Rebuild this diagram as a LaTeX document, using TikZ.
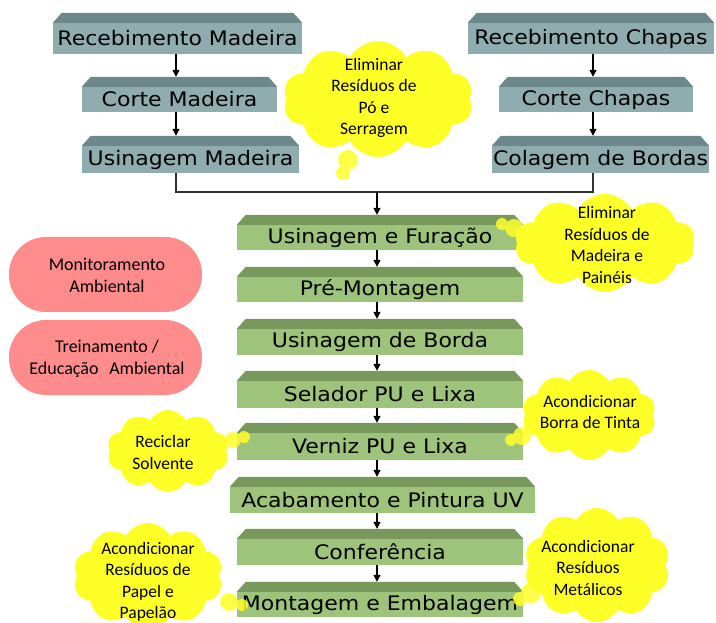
\documentclass[tikz,border=0pt]{standalone}
\usepackage{fontspec}
\usetikzlibrary{shapes.symbols,arrows.meta}
\newfontfamily\barfont[FakeStretch=1.1]{DejaVu Sans}
\newfontfamily\notefont{Carlito}

\definecolor{greyfront}{RGB}{143,172,174}
\definecolor{greytop}{RGB}{108,136,138}
\definecolor{greenfront}{RGB}{157,196,122}
\definecolor{greentop}{RGB}{120,152,92}
\definecolor{notefill}{RGB}{255,255,40}
\definecolor{boxfill}{RGB}{255,140,140}
\definecolor{linkgrey}{RGB}{50,50,50}

\tikzset{
  barnode/.style={rectangle, inner sep=0pt, text=black,
    font=\barfont\fontsize{20}{23}\selectfont},
  arr/.style={-{Triangle[length=7pt,width=7pt]}, line width=1.2pt, black},
  link/.style={line width=1.2pt, linkgrey},
  notecloud/.style={cloud, cloud puffs=10, cloud puff arc=120, cloud ignores aspect,
    fill=notefill, draw=none, inner sep=0pt},
  bubble/.style={fill=notefill, fill opacity=0.85, draw=none},
  notetext/.style={align=center, inner sep=0pt, text=black,
    font=\notefont\fontsize{17.5}{21.5}\selectfont},
  pillbox/.style={rectangle, rounded corners=37pt, fill=boxfill, draw=none,
    minimum width=193pt, minimum height=75pt, inner sep=0pt},
  pilltext/.style={align=center, inner sep=0pt, text=black,
    font=\notefont\fontsize{18}{22}\selectfont},
}

% process bar: front face as node, bevelled top drawn above it
% #1 name, #2 centre, #3 width, #4 height, #5 colour set, #6 text
\newcommand\stepbar[6]{%
  \node[barnode, fill=#5front, minimum width=#3pt, minimum height=#4pt] (#1) at (#2) {#6};
  \fill[#5top] (#1.north west) -- ([xshift=9pt,yshift=10pt]#1.north west)
     -- ([xshift=-9pt,yshift=10pt]#1.north east) -- (#1.north east) -- cycle;
  \coordinate (#1t) at ([yshift=10pt]#1.north);
}

\begin{document}
\begin{tikzpicture}[x=1pt,y=-1pt]
\useasboundingbox (0,0) rectangle (716,623);

% columns of the flow
\coordinate (colL) at (176,0);
\coordinate (colR) at (593,0);
\coordinate (colM) at (377,0);
\coordinate (join) at (377,192);

% wood line
\stepbar{RM}{177.5,38.5}{249}{31}{grey}{Recebimento Madeira}
\stepbar{CM}{179.5,99.5}{195}{25}{grey}{Corte Madeira}
\stepbar{UM}{190.5,159.5}{217}{27}{grey}{Usinagem Madeira}

% panel line
\stepbar{RC}{591,38.5}{246}{31}{grey}{Recebimento Chapas}
\stepbar{CC}{596,99.5}{194}{25}{grey}{Corte Chapas}
\stepbar{CB}{600.5,159.5}{217}{27}{grey}{Colagem de Bordas}

% main line
\stepbar{UF}{380,237.5}{286}{25}{green}{Usinagem e Furação}
\stepbar{PM}{380,289.5}{286}{25}{green}{Pré-Montagem}
\stepbar{UB}{380,342}{286}{26}{green}{Usinagem de Borda}
\stepbar{SL}{380,394.5}{286}{27}{green}{Selador PU e Lixa}
\stepbar{VZ}{380,446.5}{286}{27}{green}{Verniz PU e Lixa}
\stepbar{AC}{382.5,500}{305}{26}{green}{Acabamento e Pintura UV}
\stepbar{CF}{380,552}{286}{26}{green}{Conferência}
\stepbar{MG}{380,604.5}{286}{25}{green}{Montagem e Embalagem}

% arrows
\draw[arr] (colL |- RM.south) -- (colL |- CMt);
\draw[arr] (colL |- CM.south) -- (colL |- UMt);
\draw[arr] (colR |- RC.south) -- (colR |- CCt);
\draw[arr] (colR |- CC.south) -- (colR |- CBt);
\draw[link] (colL |- UM.south) |- (join) -| (colR |- CB.south);
\draw[arr] (join) -- (colM |- UFt);
\draw[arr] (colM |- UF.south) -- (colM |- PMt);
\draw[arr] (colM |- PM.south) -- (colM |- UBt);
\draw[arr] (colM |- UB.south) -- (colM |- SLt);
\draw[arr] (colM |- SL.south) -- (colM |- VZt);
\draw[arr] (colM |- VZ.south) -- (colM |- ACt);
\draw[arr] (colM |- AC.south) -- (colM |- CFt);
\draw[arr] (colM |- CF.south) -- (colM |- MGt);

% environmental programmes
\node[pillbox] (MA) at (105.5,274.5) {};
\node[pilltext] (MAtxt) at (107,275) {Monitoramento\\Ambiental};
\node[pillbox] (TE) at (105.5,357.5) {};
\node[pilltext] (TEtxt) at (107,359) {Treinamento /\\Educação\hspace{0.6em}Ambiental};

% notes
\node[notecloud, minimum width=190pt, minimum height=116pt] (N1) at (378,99) {};
\fill[bubble] (348,160) circle (10) (343,173) circle (7);
\node[notetext] (N1txt) at (374,98) {Eliminar\\Resíduos de\\Pó e\\Serragem};

\node[notecloud, minimum width=180pt, minimum height=98pt] (N2) at (605,243) {};
\fill[bubble] (514,228) circle (9) (502,224) circle (6);
\node[notetext] (N2txt) at (607,245) {Eliminar\\Resíduos de\\Madeira e\\Painéis};

\node[notecloud, minimum width=134pt, minimum height=90pt] (N3) at (589,415) {};
\fill[bubble] (522,436) circle (9) (511,440) circle (6);
\node[notetext] (N3txt) at (590,412) {Acondicionar\\Borra de Tinta};

\node[notecloud, minimum width=122pt, minimum height=82pt] (N4) at (168,451) {};
\fill[bubble] (233,440) circle (8) (244,437) circle (6);
\node[notetext] (N4txt) at (163,452.5) {Reciclar\\Solvente};

\node[notecloud, minimum width=150pt, minimum height=106pt] (N5) at (148,576) {};
\fill[bubble] (229,602) circle (9) (242,605) circle (6);
\node[notetext] (N5txt) at (148,582) {Acondicionar\\Resíduos de\\Papel e\\Papelão};

\node[notecloud, minimum width=146pt, minimum height=114pt] (N6) at (597,565) {};
\fill[bubble] (531,593) circle (10) (520,599) circle (7);
\node[notetext] (N6txt) at (588,567.5) {Acondicionar\\Resíduos\\Metálicos};

\end{tikzpicture}
\end{document}
